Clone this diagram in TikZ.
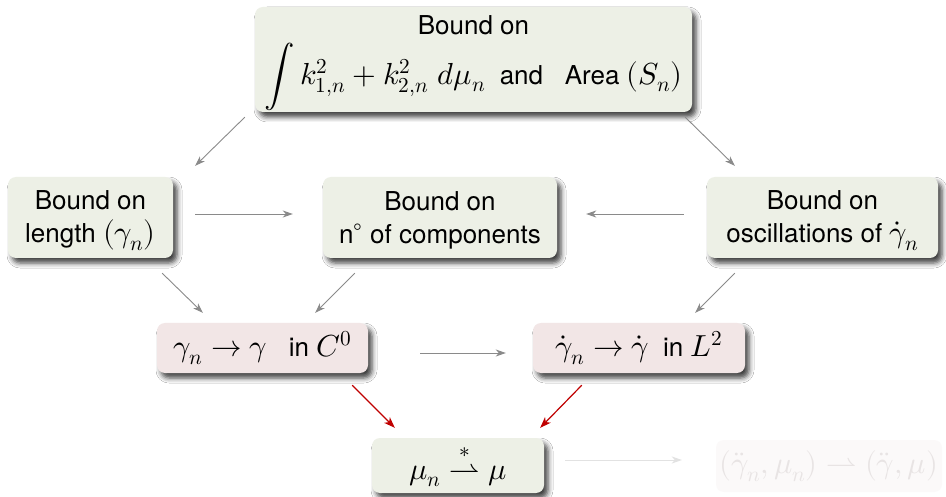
\documentclass[tikz,border=0pt]{standalone}
\usepackage{amsmath}
\usepackage{fontspec}
\usepackage{unicode-math}
\setmathfont{latinmodern-math.otf}[Scale=1.17]
\setsansfont{TeX Gyre Heros}
\usetikzlibrary{arrows.meta,calc,shadows.blur}
\definecolor{boxgreen}{HTML}{EDF0E6}
\definecolor{boxpink}{HTML}{F2E6E6}
\definecolor{arrgray}{HTML}{8A8A8A}
\definecolor{arrred}{HTML}{C00000}
\definecolor{fadefill}{HTML}{FBF9F9}
\definecolor{fadetext}{HTML}{E8E4E4}
\definecolor{fadearr}{HTML}{E2E2E2}
\tikzset{
  basebox/.style={rounded corners=8pt, inner sep=0pt, align=center,
    font=\sffamily\fontsize{26}{33}\selectfont, text=black},
  myshadow/.style={blur shadow={shadow xshift=4pt, shadow yshift=-5pt,
    shadow blur radius=5pt, shadow opacity=75}},
  gbox/.style={basebox, fill=boxgreen, myshadow},
  pbox/.style={basebox, fill=boxpink, myshadow},
  fadedbox/.style={basebox, fill=fadefill, text=fadetext},
  conn/.style={draw=arrgray, line width=0.9pt,
    -{Stealth[length=10pt,width=7pt,inset=3pt]}},
  redconn/.style={draw=arrred, line width=1.2pt,
    -{Stealth[length=11pt,width=8pt,inset=3pt]}},
  fadeconn/.style={draw=fadearr, line width=0.9pt,
    -{Stealth[length=10pt,width=7pt,inset=3pt]}},
}
\begin{document}
\begin{tikzpicture}[x=1pt,y=-1pt]
\fill[white] (0,0) rectangle (946,497);
\useasboundingbox (0,0) rectangle (946,497);

\node[gbox, minimum width=437pt, minimum height=105pt] (top) at (473.5,59.5)
  {\rule{0pt}{26pt}Bound on\\[7pt] $\displaystyle\int k_{1,n}^2+k_{2,n}^2\;d\mu_n$\ \ and \ \ Area $(S_n)$};
\node[gbox, minimum width=165pt, minimum height=81pt] (len) at (90.5,217.5)
  {\rule{0pt}{25pt}Bound on\\ length $(\gamma_n)$};
\node[gbox, minimum width=234pt, minimum height=81pt] (comp) at (440,217.5)
  {\rule{0pt}{25pt}Bound on\\ n$^\circ$ of components};
\node[gbox, minimum width=231pt, minimum height=81pt] (osc) at (822.5,217.5)
  {\rule{0pt}{25pt}Bound on\\ oscillations of $\dot\gamma_n$};
\node[pbox, minimum width=211pt, minimum height=50pt] (c0) at (262.5,348)
  {$\gamma_n\to\gamma$\hspace{0.55em} in $C^0$};
\node[pbox, minimum width=212pt, minimum height=50pt] (l2) at (639,348)
  {$\dot\gamma_n\to\dot\gamma$\hspace{0.25em} in $L^2$};
\node[gbox, minimum width=172pt, minimum height=55pt] (mu) at (458,465.5)
  {$\mu_n \overset{*}{\rightharpoonup} \mu$};
\node[fadedbox, minimum width=226pt, minimum height=52pt] (fin) at (829,466)
  {$(\ddot\gamma_n,\mu_n)\rightharpoonup(\ddot\gamma,\mu)$};

\draw[conn] ($(top.south west)+(-10,5)$) -- ($(len.north east)+(22,-11)$);
\draw[conn] ($(top.south east)+(-7,5)$) -- ($(osc.north west)+(28,-11)$);
\draw[conn] ($(len.east)+(22,-3.5)$) -- ($(comp.west)+(-30,-3.5)$);
\draw[conn] ($(osc.west)+(-23,-3.5)$) -- ($(comp.east)+(29,-3.5)$);
\draw[conn] ($(len.south east)+(-11,15)$) -- ($(c0.north west)+(46,-10)$);
\draw[conn] ($(comp.south west)+(32,15)$) -- ($(c0.north east)+(-53,-10)$);
\draw[conn] ($(osc.south west)+(28,15)$) -- ($(l2.north east)+(-50,-10)$);
\draw[conn] ($(c0.east)+(52,5)$) -- ($(l2.west)+(-27,5)$);
\draw[redconn] ($(c0.south east)+(-16,12)$) -- ($(mu.north west)+(23,-10)$);
\draw[redconn] ($(l2.south west)+(49,12)$) -- ($(mu.north east)+(-4,-10)$);
\draw[fadeconn] ($(mu.east)+(21,-5.5)$) -- ($(fin.west)+(-34,-6)$);
\end{tikzpicture}
\end{document}
